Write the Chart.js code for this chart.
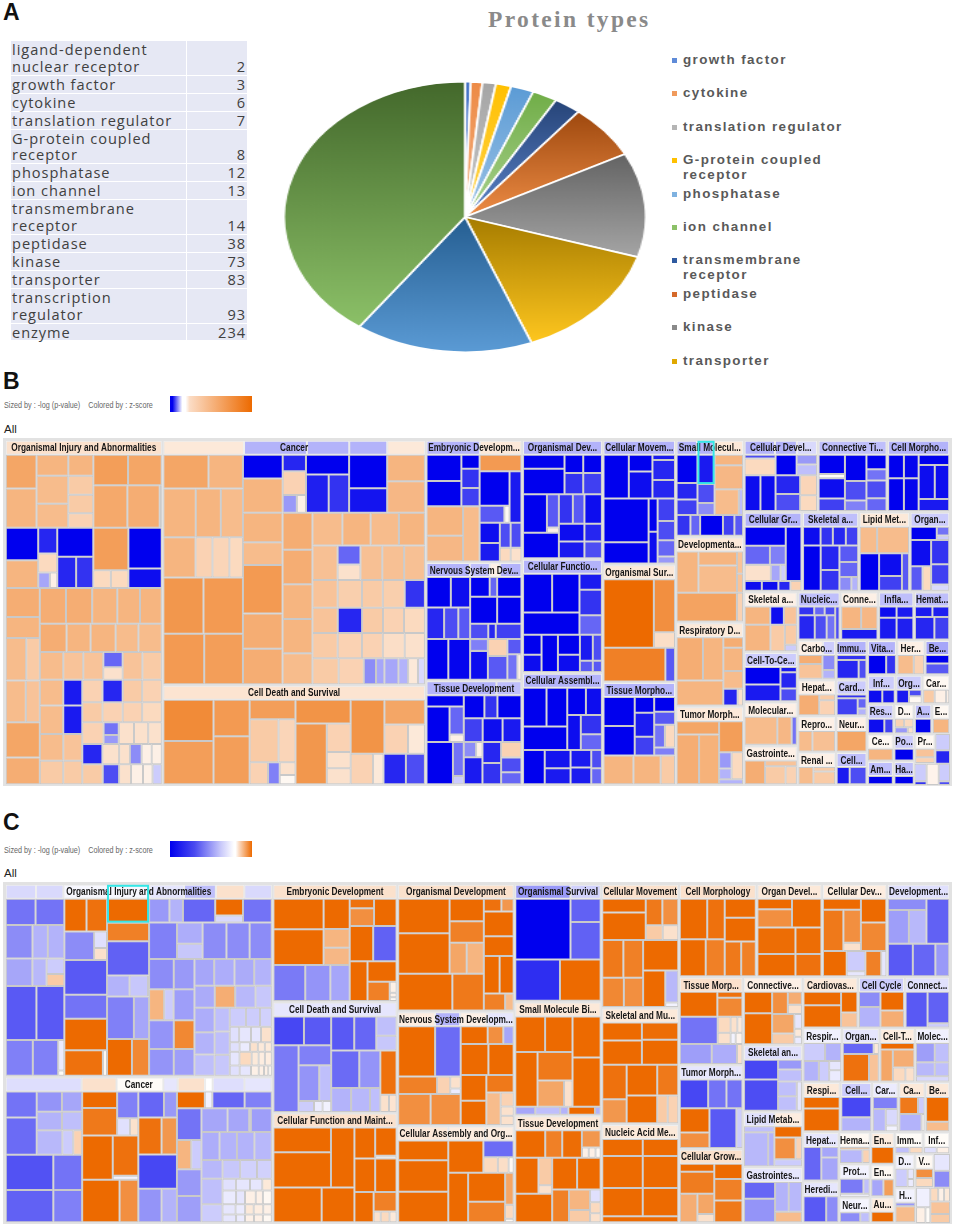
<!DOCTYPE html>
<html>
<head>
<meta charset="utf-8">
<script src="https://cdn.jsdelivr.net/npm/chart.js@4"></script>
<style>
  html, body { margin: 0; background: #fff; }
  #page { position: relative; width: 955px; height: 1229px; overflow: hidden; font-family: "Liberation Sans", Arial, sans-serif; }
  #page > * { position: absolute; }
  .letter { font-weight: bold; font-size: 23px; line-height: 23px; color: #111; left: 3px; }
  .sized { left: 4px; font: 8.6px "Liberation Sans", sans-serif; color: #666; white-space: pre; transform-origin: 0 0; transform: scaleX(.84); }
  .all { left: 4px; font-size: 11.5px; color: #222; }
  .scalebar { left: 170px; width: 82px; height: 16px; }
  #title { left: 488px; top: 6px; font: bold 23.5px "Liberation Serif", serif; color: #8a8a8a; letter-spacing: 2.35px; white-space: pre; }
  #proteinTable { left: 11px; top: 41px; border-collapse: separate; border-spacing: 0; font: 14.6px/16.9px "Open Sans", sans-serif; color: #404040; letter-spacing: .95px; }
  #proteinTable td { background: #e6e8f4; padding: 0 1px 0 1px; border-bottom: 1px solid #fff; vertical-align: bottom; }
  #proteinTable td:first-child { width: 173px; border-right: 1px solid #fff; }
  #proteinTable td:last-child { width: 58px; text-align: right; }
  #pieBox { left: 283px; top: 81px; width: 272px; height: 272px; transform-origin: 0 0; transform: scaleX(1.338); }
  #pieLegend { left: 672px; top: 53px; margin: 0; padding: 0; list-style: none; font: bold 13.4px/14.6px "Liberation Sans", sans-serif; color: #595959; letter-spacing: 1.4px; }
  #pieLegend li { position: relative; height: 33.4px; padding-left: 11px; width: 220px; }
  #pieLegend i { position: absolute; left: 0; top: 5px; width: 5px; height: 5px; }
  .frame { background: #e2e2e2; }
</style>
</head>
<body>
<div id="page">
  <div class="letter" style="top:1px">A</div>
  <table id="proteinTable"></table>
  <div id="title">Protein types</div>
  <div id="pieBox"><canvas id="pie" width="272" height="272"></canvas></div>
  <ul id="pieLegend"></ul>

  <div class="letter" style="top:370px">B</div>
  <div class="sized" style="top:400px">Sized by : -log (p-value)    Colored by : z-score</div>
  <div class="scalebar" style="top:396px;background:linear-gradient(90deg,#0000ee 0%,#0000ee 3%,#fff 15%,#fff 19%,#fbdcc5 24%,#ed6a00 100%)"></div>
  <div class="all" style="top:423px">All</div>
  <div class="frame" style="left:3px;top:438px;width:949px;height:348px"></div>
  <div style="left:5px;top:440px;width:945px;height:345px"><canvas id="treeB" width="945" height="345"></canvas></div>

  <div class="letter" style="top:811px">C</div>
  <div class="sized" style="top:845px">Sized by : -log (p-value)    Colored by : z-score</div>
  <div class="scalebar" style="top:841px;background:linear-gradient(90deg,#0000ee 0%,#4a4af0 30%,#c8c8fa 62%,#fff 78%,#fff 80%,#fbdcc5 84%,#ed6a00 100%)"></div>
  <div class="all" style="top:867px">All</div>
  <div class="frame" style="left:3px;top:882px;width:949px;height:342px"></div>
  <div style="left:5px;top:884px;width:945px;height:339px"><canvas id="treeC" width="945" height="339"></canvas></div>
</div>

<script>
// Protein types table + pie
const tableLabels = ['ligand-dependent nuclear receptor', 'growth factor', 'cytokine', 'translation regulator', 'G-protein coupled receptor', 'phosphatase', 'ion channel', 'transmembrane receptor', 'peptidase', 'kinase', 'transporter', 'transcription regulator', 'enzyme'];
const tableCounts = [2, 3, 6, 7, 8, 12, 13, 14, 38, 73, 83, 93, 234];
const pieLabels = tableLabels.slice(1);
const pieCounts = tableCounts.slice(1);
const legendCount = 10;
const pieTop = ['#4472c4', '#ed8a45', '#a5a5a5', '#ffc000', '#5b9bd5', '#70ad47', '#264478', '#9e480e', '#636363', '#a67c00', '#255e91', '#43682b'];
const pieBottom = ['#5f8bd8', '#f4b183', '#c8c8c8', '#ffd34d', '#9dc3e6', '#a9d18e', '#5b83c8', '#ed8c45', '#a5a5a5', '#ffc71f', '#5b9bd5', '#8cc168'];
const legendColors = ['#5f8bd8', '#f09a5c', '#b5b5b5', '#ffc000', '#7fb2e0', '#8cc168', '#2f5aa0', '#d5692a', '#8a8a8a', '#e0a800'];

// group names hold the ellipsis as printed. Sizes are -log(p) weights, second number is the z-score (+-1 = end of scale)
// ---------- panel B ----------
const bInjury = [
  [218, [[92, [[100, .6], [116, .5]]], [95, [[62, .5], [83, .45], [71, .45]]], [75, [[62, .5], [56, .35], [55, .35], [43, .3]]],
    [205, [[90, [[100, .65], [97, .6]]], [126, [[100, .58], [95, .55], [6, .1]]]]]]],
  [180, [[97, [[97, -1], [83, .5]]], [57, [[77, -.85], [57, .25], [46, [[35, -.35], [22, .1]]]]], [108, [[87, -1], [93, [[55, -.85], [50, -.8]]]]],
    [105, [[127, .65], [53, [[52, .25], [52, .25]]]]], [100, [[122, -1], [58, -.95]]]]],
  [587, [[102, [[87, .55], [63, .5], [127, [[60, .45], [40, .35]]], [125, [[60, .45], [42, .4]]], [105, .6], [80, .55]]],
    [365, [
      [107, [[78, .55], [78, .55], [75, .5], [68, .5], [65, .5]]],
      [85, [[80, .55], [72, .5], [75, .5], [68, .45], [70, .45]]],
      [83, [[70, .45], [60, .4], [60, .4], [58, [[45, -.6], [38, .2]]], [59, .4], [58, .35]]],
      [312, [
        [127, [[77, [[70, .45], [57, -.9]]], [85, [[70, .45], [57, -.9]]], [80, [[70, .45], [57, .4]]], [70, [[70, .35], [57, .35]]]]],
        [238, [
          [67, [[60, .3], [60, -.85], [58, .35], [58, .3]]],
          [60, [[60, .35], [60, .3], [58, .3], [58, .25]]],
          [65, [[63, .3], [45, [[35, -.55], [25, -.4]]], [45, .2], [42, .2], [40, .2]]],
          [60, [[60, -.85], [50, .2], [32, .2], [35, -.45], [30, .1], [30, .1]]],
          [60, [[60, .35], [48, -.7], [35, .2], [35, .1], [28, .1], [27, -.2]]]
        ]]
      ]]
    ]]
  ]]
];
const bCancer = [
  [682, [[238, [[100, [[135, .6], [103, .5]]], [145, [[97, .5], [75, .5], [66, .45]]], [120, [[95, .5], [50, .3], [50, .28], [40, .25]]], [167, [[120, .7], [118, .68]]], [150, [[122, .68], [116, .65]]]]],
    [544, [
      [172, [[118, [[70, -1], [100, .5]]], [69, [[48, -.85], [70, .3], [52, [[42, -.4], [27, .1]]]]], [128, [[58, -1], [112, [[67, -.88], [60, -.8]]]]], [113, [[98, -1], [72, -.92]]], [112, [[78, .5], [92, .48]]]]],
      [510, [[118, [[88, .5], [68, .45], [144, .68], [105, .55], [105, .55]]], [89, [[110, .55], [103, .55], [103, .5], [102, .5], [92, .45]]],
        [335, [[98, [[90, .45], [85, .5], [85, .45], [78, .5]]], [102, [[75, .42], [68, [[55, -.6], [45, .2]]], [65, .42], [65, .42], [62, .42]]],
          [83, [[75, .4], [72, .32], [62, .35], [65, .32], [60, -.8]]], [75, [[75, .4], [72, -.85], [62, .35], [62, .3], [62, .25]]],
          [75, [[75, .35], [72, .3], [62, .3], [65, .22], [60, .2]]], [77, [[75, .35], [72, .3], [35, -.45], [24, -.35], [40, -.35], [28, -.3], [28, .15], [20, -.15]]]]]]]
    ]]]]
];
const bCellDeath = [
  [250, [[150, [[122, .78], [128, .65]]], [108, [[108, .68], [142, .65]]], [137, [[58, .65], [127, [[85, .35], [50, .28]]], [65, [[55, .3], [35, -.5], [47, [[28, .2], [20, .05]]]]]]],
    [165, [[70, .72], [180, [[92, .7], [70, [[85, .3], [48, .2], [47, .2]]]]]]],
    [222, [[160, [[100, .72], [120, [[73, .6], [87, [[70, .3], [50, .15]]]]]]], [90, [[65, .3], [30, .15], [65, -.85], [55, -.7]]]]]]]
];
const bEmbryonic = byCols([
  [160, [[152, [[105, [[78, -1], [75, -1]]], [55, [[40, -1], [55, -.8], [52, -.75]]]]], [163, [[110, [[85, .5], [75, .48]]], [50, .45]]]]],
  [126, [[48, .68], [150, [[88, [[102, -1], [50, [[72, -.65], [15, .05]]]]], [35, -.9]]], [113, [[60, [[58, -.95], [53, -.9]]], [32, [[73, -.7], [40, .25]]], [32, [[73, -.7], [40, .2]]]]]]]
]);
const bNervous = [
  [183, [[130, [[90, [[72, -1], [57, -.95]]], [93, [[52, -.85], [42, -.7], [35, -.65]]]]], [153, [[58, [[58, -1], [22, -.6], [72, -1]]], [80, [[80, -1], [72, -1]]], [45, [[53, -.7], [22, -.85], [75, -.75]]]]]]],
  [120, [[65, -1], [65, -.98], [53, [[35, -.5], [85, -.95]]], [58, [[50, .3], [70, -.65]]], [42, [[45, -.65], [75, [[30, -.55], [12, .1]]]]]]]
];
const bTissueDev = byCols([
  [110, [[33, -1], [105, [[68, -1], [42, [[85, -.6], [23, .1]]]]], [125, [[78, -1], [32, [[105, -.55], [25, -.2]]]]]]],
  [170, [[68, [[60, -1], [38, -.8], [70, -1]]], [70, [[55, -.75], [58, -.95], [55, -.9]]], [125, [[55, [[45, [[35, -.45], [18, .1]]], [80, -.9]]], [55, [[60, -.85], [60, -.8]]], [60, [[43, .3], [40, -.7], [33, -.6]]]]]]]
]);
const bOrgDev = [
  [115, [[122, [[40, -1], [72, -1]]], [55, [[52, -1], [60, -.8]]], [55, [[52, -1], [60, -.75]]]]],
  [187, [[105, [[110, [[70, -1], [35, [[95, -.65], [15, .1]]]]], [73, -1]]], [126, [[84, [[40, -.8], [33, -.65], [50, -.95]]], [50, [[73, -.95], [50, -.85]]], [47, [[73, -.9], [50, -.7]]]]]]]
];
const bCellFunc = [
  [179, [[166, [[112, [[85, -1], [80, -1]]], [64, -1]]], [66, [[47, -.9], [75, -.8], [57, -.6]]]]],
  [110, [[53, [[58, -1], [50, -.95]]], [47, -1], [63, [[58, -1], [50, -.95]]], [37, [[75, -.9], [32, -.65]]], [26, [[75, -.7], [32, -.65]]]]]
];
const bCellAssembly = [
  [183, [[130, [[113, [[68, -1], [60, -1]]], [68, -1]]], [102, [[80, [[55, -1], [47, -.95]]], [103, [[40, -.95], [62, [[55, -.8], [45, -.6]]]]]]]]],
  [100, [[63, -1], [75, [[52, -.92], [45, -.9]]], [60, [[50, -.9], [48, -.9]]], [31, [[52, -.7], [45, -.6]]]]]
];
const bCellMove = [
  [128, [[73, -1], [68, [[48, -1], [78, -.95]]], [65, [[15, -.9], [57, -.85], [53, -.85]]]]],
  [190, [[130, [[126, -1], [62, -1]]], [26, [[96, -1], [92, -.95]]], [50, [[63, -.75], [54, -.7], [45, -.6], [20, -.4]]]]]
];
const bOrgSurvival = [
  [203, [[148, 1], [62, [[155, .75], [45, .22]]]]],
  [100, [[180, .85], [28, -.65]]]
];
const bTissueMorph = [
  [172, [[90, [[84, -1], [86, -1]]], [56, [[44, -1], [68, -.9], [53, -.75]]], [60, [[42, -1], [38, -.65], [65, [[30, -.55], [28, .25]]], [23, -.5]]]]],
  [85, [[88, .5], [80, .5], [42, .35]]]
];
const bSmallMol = [
  [175, [[61, [[82, -1], [48, -.85], [45, -.75]]], [50, [[85, -.9, true], [55, -.7], [35, -.45]]], [83, [[30, .5], [70, .48], [75, [[70, .45], [12, -.25]]]]]]],
  [60, [[40, -.8], [28, -.6], [66, -1], [33, -.75], [25, -.65]]]
];
const bDevelop = [
  [120, [[65, .5], [115, [[40, .5], [78, .45]]], [18, [[65, .4], [55, .4]]]]],
  [83, [[178, .62], [18, .3]]]
];
const bRespiratory = [
  [200, [[137, [[125, [[78, .55], [60, .5]]], [72, .5]]], [58, [[30, .55], [66, .5], [50, .45], [48, [[40, -.85], [15, .2]]]]]]]
];
const bTumor = [
  [190, [[124, [[40, .6], [150, [[65, .55], [58, .52]]]]], [70, [[93, .65], [80, [[35, [[45, -.4], [30, -.3]]], [32, .25]]], [15, -.3]]]]]
];
const bCellDev = [
  [62, [[88, [[12, -.7], [53, .25]]], [60, -1], [58, [[27, -.4], [30, -.25]]]]],
  [108, [[45, -.95], [43, -.95], [70, [[55, -.85], [50, -.7]]], [48, [[60, .28], [48, .25]]]]]
];
const bConnTissue = [
  [170, [[76, [[57, -1], [13, .02], [60, -.95], [38, -.75]]], [62, [[78, -1], [58, -.7], [32, -.5]]], [58, [[42, -1], [33, -.55], [52, -.7], [38, -.6]]]]]
];
const bCellMorph = [
  [170, [[90, [[70, [[45, -1], [42, -.98]]], [98, [[45, -1], [42, -.98]]]]], [90, [[30, -1], [100, [[47, -.95], [42, -.95]]], [36, -.9]]]]]
];
const bCellGrowth = [
  [153, [[118, [[53, -1], [53, [[72, -.6], [45, -.5]]], [45, [[75, .2], [28, -.35], [15, -.2]]]]], [45, -1]]],
  [28, [[50, -.95], [48, -.95], [35, -.85], [32, .3]]]
];
const bSkeletal1 = [
  [53, [[50, -.95], [35, -.8], [37, -.85], [35, -.75]]],
  [127, [[50, -1], [53, [[67, -.85], [57, -.8]]], [53, [[44, -.65], [40, -.6], [37, [[35, -.45], [20, -.3]]]]]]]
];
const bLipid = [[76, [[50, .45], [92, .45]]], [108, [[55, -1], [65, [[62, -.95], [40, -.75]]], [20, -.65]]]];
const bOrgan = [[38, [[78, -1], [37, [[25, -.55], [13, -.2]]]]], [146, [[60, [[73, -.95], [68, [[35, -.65], [25, .25]]]]], [53, [[68, -.8], [57, -.75], [18, -.15]]]]]];
const bSkeletal2 = [[52, [[75, .5], [40, -.95], [38, .4]]], [75, [[75, .5], [42, .35], [35, [[53, .35], [17, -.2]]]]]];
const bCellToCell = [[95, [[105, [[47, -1], [45, -.9]]], [48, [[15, -.9], [45, -.85], [35, -.7]]]]]];
const bMolecular = [[80, [[95, .45], [42, .48], [15, -.55]]]];
const bGastro = [[70, [[58, .55], [90, [[17, .4], [53, [[58, .35], [32, .3]]]]]]]];
const bNucleic = [[97, [[108, [[25, [[45, -.8], [30, -.6], [30, -.7]]], [70, [[48, -.85], [35, -.7], [25, -.55]]]]], [13, -.7]]]];
const bConn2 = [[65, [[57, .5], [47, .48]]], [30, -.9]];
const bInflam = [[32, [[50, -.95], [48, -.9]]], [62, [[50, -.9], [48, -.88]]]];
const bHemat = [[30, [[50, -.9], [48, -.88]]], [65, [[55, -.85], [42, -.75]]]];
const bCarbo = [[68, [[72, [[25, .55], [42, .4]]], [38, [[42, -.45], [25, -.3]]]]]];
const bImmu = [[13, -.8], [50, [[62, -.85], [22, -.7]]]];
const bHepat = [[53, [[60, .55], [46, [[15, .35], [38, .3]]]]]];
const bCard = [[10, -.8], [45, [[60, -.75], [25, [[30, -.6], [20, -.3]]]]]];
const bRepro = [[58, [[40, .45], [65, .42]]]];
const bNeur = [[52, .6]];
const bRenal = [[50, [[45, .45], [65, [[12, .35], [35, .35]]]]]];
const bCellSmall = [[48, [[35, -.9], [45, -.7]]]];
const bVita = [[50, [[50, -1], [27, -.8]]]];
const bHer = [[50, [[45, .45], [28, .3]]]];
const bBe = [[20, -1], [26, -.65]];
const bInf = [[35, [[40, -.95], [35, -.9]]]];
const bOrg = [[35, [[35, -.9], [35, [[17, -.7], [18, .05]]]]]];
const bCar = [[33, [[30, .35], [30, .1], [8, .1]]]];
const bRes = [[42, [[45, -.95], [25, -.75]]]];
const bD = [[25, [[25, .3], [25, .25]]], [18, [[35, -.4], [15, .2]]]];
const bA = [[45, -1]];
const bE = [[45, .5]];
const bCe = [[30, .5]];
const bAm = [[25, -1]];
const bPo = [[25, -1]];
const bHa = [[22, -1]];
const bPr = [[18, .4], [12, .3]];

const bTree = [
  [470, [g('Organismal Injury and Abnormalities', 1, .2, bInjury)]],
  [785, [g('Cancer', 727, [[240, .15], [187, -.3], [126, -.3], [113, -.3], [112, .15]], bCancer), g('Cell Death and Survival', 297, .18, bCellDeath)]],
  [288, [g('Embryonic Developm...', 357, [[160, -.3], [125, .15]], bEmbryonic), g('Nervous System Dev...', 345, [[130, -.3], [60, -.25], [30, .1], [65, -.3]], bNervous), g('Tissue Development', 305, [[210, -.3], [75, -.25]], bTissueDev)]],
  [240, [g('Organismal Dev...', 350, -.3, bOrgDev), g('Cellular Functio...', 335, -.3, bCellFunc), g('Cellular Assembl...', 330, -.3, bCellAssembly)]],
  [218, [g('Cellular Movem...', 367, -.3, bCellMove), g('Organismal Sur...', 348, .15, bOrgSurvival), g('Tissue Morpho...', 303, -.3, bTissueMorph)]],
  [203, [g('Small Molecul...', 285, [[62, -.3], [50, -.3], [90, .15]], bSmallMol), g('Developmenta...', 253, .15, bDevelop), g('Respiratory D...', 248, .15, bRespiratory), g('Tumor Morph...', 232, .15, bTumor)]],
  [615, [
    [212, [g('Cellular Devel...', 216, [[90, -.3], [65, -.3], [60, -.15]], bCellDev), g('Connective Ti...', 203, -.25, bConnTissue), g('Cell Morpho...', 183, -.3, bCellMorph)]],
    [235, [g('Cellular Gr...', 170, -.3, bCellGrowth), g('Skeletal a...', 165, -.25, bSkeletal1), g('Lipid Met...', 148, .15, bLipid), g('Organ...', 117, -.2, bOrgan)]],
    [570, [
      [160, [g('Skeletal a...', 172, .1, bSkeletal2), g('Cell-To-Ce...', 142, -.2, bCellToCell), g('Molecular...', 124, .1, bMolecular), g('Gastrointe...', 112, .1, bGastro)]],
      [453, [
        [143, [g('Nucleic...', 124, -.25, bNucleic), g('Conne...', 110, .1, bConn2), g('Infla...', 104, -.25, bInflam), g('Hemat...', 104, -.25, bHemat)]],
        [425, [
          [207, [
            [114, [g('Carbo...', 112, [[70, .1], [35, -.2]], bCarbo), g('Immu...', 92, -.3, bImmu)]],
            [106, [g('Hepat...', 112, .1, bHepat), g('Card...', 92, -.2, bCard)]],
            [105, [g('Repro...', 112, .1, bRepro), g('Neur...', 92, .1, bNeur)]],
            [95, [g('Renal ...', 112, .1, bRenal), g('Cell...', 92, -.25, bCellSmall)]]
          ]],
          [246, [
            [102, [g('Vita...', 84, -.3, bVita), g('Her...', 80, .1, bHer), g('Be...', 72, -.35, bBe)]],
            [85, [g('Inf...', 82, -.2, bInf), g('Org...', 78, -.2, bOrg), g('Car...', 80, .05, bCar)]],
            [88, [g('Res...', 78, -.2, bRes), g('D...', 58, .05, bD), g('A...', 52, -.25, bA), g('E...', 52, .05, bE)]],
            [150, [
              [78, [g('Ce...', 75, .05, bCe), g('Am...', 65, -.25, bAm)]],
              [62, [g('Po...', 75, -.2, bPo), g('Ha...', 65, -.25, bHa)]],
              [105, [[77, [g('Pr...', 1, .05, bPr), [.7, [[42, -.2], [35, -.85]]]]], [55, [[32, [[45, -.2], [10, -.8]]], [32, .08], [30, [[45, -.2], [10, -.7]]]]]]]
            ]]
          ]]
        ]]
      ]]
    ]]
  ]]
];

// ---------- panel C ----------
const cInjury = byCols([
  [174, [[78, [[88, -.55], [85, -.55]]], [100, [[78, -.45], [45, -.3], [48, -.3]]], [82, [[78, -.35], [42, -.28], [52, [[45, -.2], [35, .35]]]]], [161, [[90, -.65], [82, -.65]]], [107, [[80, -.5], [75, -.5], [18, [[85, -.08], [15, .03]]]]]]],
  [127, [[96, [[65, 1], [60, .95]]], [84, [[88, -.45], [38, [[48, -.12], [35, .2]]]]], [102, -.65], [71, -.55], [93, 1], [75, [[112, .95], [12, .05]]]]],
  [125, [[70, 1, true], [55, .85], [100, -.62], [62, [[67, -.3], [55, -.22], [3, .02]]], [125, [[80, -.5], [45, -.35]]], [108, [[73, 1], [50, .8]]]]],
  [365, [
    [70, [[60, -.4], [40, -.3], [95, -.6], [82, [[48, 1], [20, -.15]]], [85, -.55]]],
    [108, [[82, -.5], [75, [[62, -.32], [45, -.22]]], [70, -.45], [68, -.45], [65, -.45]]],
    [345, [
      [135, [[90, [[72, -.45], [60, -.4]]], [92, [[45, .5], [28, -.2], [62, -.38]]], [85, [[72, -.42], [60, .8]]], [80, [[72, -.42], [60, -.38]]]]],
      [230, [
        [79, [[58, -.35], [60, -.32], [58, -.33], [52, -.3]]],
        [66, [[60, -.33], [60, .55], [60, -.28], [48, -.22]]],
        [202, [
          [60, [[68, -.32], [62, -.3], [60, -.25]]],
          [45, [[70, -.25], [69, -.25], [63, -.22]]],
          [125, [
            [55, [[48, -.2], [42, -.2], [35, -.18]]],
            [45, [[28, -.12], [35, -.1], [30, -.1], [32, .2]]],
            [28, [[28, -.12], [30, -.08], [22, .2], [20, .15], [20, .15]]],
            [40, [[28, -.1], [35, .25], [20, .15], [18, .12], [20, .12]]],
            [30, [[28, -.12], [32, -.1], [22, .1], [15, .1], [12, .1], [10, .05]]]
          ]]
        ]]
      ]]
    ]]
  ]]
]);
const cCancer = byCols([
  [227, [[188, [[92, [[77, -.55], [110, -.58]]], [135, [[60, [[75, -.42], [60, -.35]]], [55, [[75, -.3], [60, -.25]]], [72, [[75, -.28], [32, -.2], [26, .3]]]]]]], [201, [[140, [[105, -.68], [95, -.62]]], [85, [[105, -.55], [95, -.5]]]]]]],
  [167, [[130, [[104, [[48, 1], [80, .9]]], [63, [[78, -.5], [50, [[35, -.12], [23, .2]]]]]]], [130, [[90, 1], [75, [[118, .95], [12, -.05]]]]], [125, [[110, 1], [55, .75]]]]],
  [115, [[76, [[75, -.6], [38, -.4]]], [108, [[68, .95], [45, .7]]], [100, -.72], [98, [[68, -.42], [45, -.3]]]]],
  [282, [
    [50, [[82, 1], [22, -.05], [95, -.6], [80, -.5]]],
    [338, [
      [72, [[92, -.55], [85, [[42, .5], [30, -.2]]], [78, -.4], [76, -.38]]],
      [207, [
        [70, [[75, -.35], [62, -.35], [5, -.02], [60, -.38]]],
        [82, [[52, -.32], [50, -.3], [50, -.3], [50, -.28]]],
        [55, [[60, -.28], [50, -.22], [48, -.18], [42, -.18]]],
        [128, [
          [62, [[75, -.25], [53, -.2]]],
          [145, [
            [35, [[38, -.12], [40, -.1], [35, -.1], [27, .15]]],
            [40, [[38, -.08], [25, -.1], [30, .1], [20, .1], [25, .05]]],
            [30, [[38, -.1], [28, -.08], [25, .15], [28, .12], [25, .1]]],
            [23, [[38, -.1], [25, -.08], [25, .1], [25, .1], [25, .05]]]
          ]]
        ]]
      ]]
    ]]
  ]]
]);
const cEmbryonic = byCols([
  [228, [[193, [[150, [[90, 1], [105, 1]]], [78, [[88, 1], [55, .5], [50, .48]]]]], [105, [[95, -.52], [75, -.42], [58, -.35]]]]],
  [140, [[78, [[70, [[27, .95], [50, .75]]], [65, 1]]], [102, [[68, 1], [68, -.62]]], [114, [[52, 1], [85, [[57, 1], [54, [[65, .85], [20, [[30, .1], [12, .1], [10, .05]]]]]]]]]]]
]);
const cCellDeath = byCols([
  [172, [[85, [[90, -.72], [80, -.65]]], [197, [[75, -.52], [97, [[59, -.5], [106, [[60, -.42], [35, -.25]]], [32, [[45, -.2], [25, -.08], [25, -.05]]]]]]]]],
  [195, [[100, [[68, -.65], [65, -.6], [60, [[52, -.25], [40, -.22]]]]], [182, [[145, [[110, [[80, -.58], [60, -.42]]], [70, [[58, -.3], [55, -.28], [30, -.25]]]]], [48, [[130, .95], [50, [[25, .2], [22, .18]]]]]]]]]
]);
const cCellFunc = byCols([
  [242, [[178, [[172, [[72, 1], [103, 1]]], [70, 1]]], [103, [[143, 1], [97, 1]]]]],
  [126, [[90, [[60, 1], [62, [[80, 1], [8, .02]]]]], [97, [[60, 1], [62, 1]]], [88, [[57, 1], [68, [[55, .85], [30, [[20, .2], [25, .25], [20, .15]]]]]]]]]
]);
const cOrgDev = byCols([
  [253, [[220, [[150, [[100, 1], [118, 1]]], [100, [[65, 1], [63, .85], [90, [[50, .6], [50, .5]]]]]]], [108, [[158, 1], [92, .9]]]]],
  [88, [[36, [[50, .95], [35, .7]]], [70, 1], [56, 1], [106, [[45, 1], [40, 1]]], [48, [[62, .85], [25, .45]]]]]
]);
const cNervous = byCols([
  [183, [[147, [[108, 1], [75, -.58]]], [51, [[112, .85], [38, .3], [30, [[30, .2], [14, -.08]]]]], [90, [[95, .75], [88, .75]]]]],
  [155, [[52, [[78, 1], [45, .75], [30, -.35]]], [91, [[80, 1], [73, 1]]], [146, [[75, [[72, 1], [68, 1]]], [80, [[50, .9], [92, [[42, .45], [38, [[30, .3], [20, .2], [20, .2]]]]]]]]]]]
]);
const cCellAssembly = byCols([
  [147, [[57, 1], [92, 1], [88, 1]]],
  [192, [[95, [[102, 1], [88, [[48, -.58], [45, [[40, .25], [30, .22], [14, .05]]]]]]], [146, [[58, 1], [108, [[85, 1], [60, .85]]], [25, [[95, .6], [42, .25], [10, .05]]]]]]]
]);
const cOrgSurvival = [[181, [[165, -1], [90, [[68, -.62], [110, -.62]]]]], [123, [[132, -.82], [120, 1]]]];
const cSmallMol = [
  [262, [[167, [[102, [[87, 1], [80, 1]]], [157, [[65, 1], [102, [[82, .9], [75, [[78, .6], [25, .2]]]]]]]]], [82, [[118, 1], [142, 1]]]]],
  [23, [[60, -.35], [75, -.25], [25, -.3], [80, 1], [17, -.3]]]
];
const cTissueDev = [
  [81, [[88, 1], [50, .85], [58, .98], [55, [[51, .7], [30, [[20, .1], [20, .1], [15, .05]]]]]]],
  [191, [[108, [[106, [[68, 1], [40, [[80, .35], [25, .2]]]]], [83, 1]]], [142, [[93, [[72, 1], [68, 1]]], [95, [[48, .85], [60, [[58, .5], [35, .35]]], [30, [[35, -.12], [30, .25], [25, .2]]]]]]]]]
];
const cCellMove = [
  [121, [[130, [[40, 1], [80, 1]]], [97, [[75, [[50, .9], [48, .75]]], [42, [[35, .35], [32, .2]]]]]]],
  [197, [[122, [[110, [[62, .9], [58, .85]]], [85, [[62, .8], [55, .75]]]]], [105, [[88, 1], [105, [[65, 1], [38, [[90, -.28], [13, -.05]]]]]]]]]
];
const cSkeletal = [
  [123, [[118, [[52, 1], [70, 1]]], [108, [[50, .98], [72, 1]]]]],
  [171, [[72, [[100, .95], [70, .7]]], [90, [[88, 1], [80, 1]]], [62, [[88, .9], [80, [[38, .35], [38, .3]]]]]]]
];
const cNucleic = [[230, [[120, [[50, 1], [93, 1], [82, 1]]], [105, [[50, 1], [93, 1], [82, 1]]]]], [18, 1]];
const cCellMorph = [[236, [[133, [[121, [[78, 1], [50, .95]]], [111, [[75, 1], [55, .85]]]]], [92, [[56, 1], [70, 1], [103, [[47, .9], [42, .85]]]]]]]];
const cOrganDev = [[85, [[100, [[30, 1], [52, .75]]], [85, 1]]], [78, [[110, .98], [75, .98]]], [66, [[110, 1], [75, .95]]]];
const cCellDev = [
  [158, [[112, [[33, 1], [125, [[58, .9], [50, [[100, .75], [25, .2]]]]]]], [75, [[70, 1], [85, .8]]]]],
  [76, [[70, 1], [55, [[60, -.2], [15, -.1]]], [47, .85], [15, -.1]]]
];
const cDevelopment = [[136, [[115, [[33, -.45], [100, [[60, -.38], [50, -.28]]]]], [68, -.62]]], [98, [[72, -.65], [65, -.6], [40, -.4]]]];
const cTissueMorph = [
  [70, [[112, 1], [75, [[17, .95], [55, .8]]]]],
  [76, [[115, -.55], [75, [[42, [[38, .25], [20, .2], [15, .15]]], [30, [[38, .2], [15, -.05], [20, .08]]]]]]],
  [56, [[95, -.38], [75, -.32], [16, .2]]]
];
const cTumor = [[84, [[85, -.72], [55, -.55], [48, -.55]]], [116, [[88, [[70, 1], [45, .75]]], [80, -.65], [18, -.2]]]];
const cCellGrowth = byCols([[100, [[23, 1], [62, .88], [81, [[50, .55], [48, [[55, .6], [22, .2]]]]]]], [82, [[43, 1], [60, .85], [61, .9]]]]);
const cConnective = byCols([[82, [[60, 1], [86, 1]]], [87, [[62, [[45, .75], [40, [[35, .55], [25, .2]]]]], [84, [[65, [[55, .6], [30, .35]]], [22, [[40, -.1], [22, .15], [20, -.08]]]]]]]]);
const cSkeletalAn = byCols([[100, [[55, -.72], [87, -.7]]], [70, [[28, -.4], [34, -.25], [83, [[55, [[42, -.25], [42, -.25]]], [15, -.1]]]]]]);
const cLipid = byCols([[88, [[17, -.25], [100, [[70, -.28], [18, -.3]]]]], [80, [[32, 1], [63, [[60, .75], [18, .3]]], [20, -.2]]]]);
const cGastro = byCols([[90, [[47, -.6], [65, -.42]]], [78, [[80, [[40, -.3], [38, -.28]]], [28, .45]]]]);
const cCardio = byCols([[108, [[37, 1], [62, 1]]], [47, [[58, 1], [42, .4]]]]);
const cCellCycle = byCols([[62, [[42, -.45], [57, -.3]]], [68, [[52, 1], [47, .55]]]]);
const cConnect = byCols([[62, -.65], [61, [[88, -.62], [12, -.2]]]]);
const cRespir = [[50, [[60, -.2], [45, -.3]]], [57, [[45, -.3], [30, -.2], [35, [[25, -.1], [30, -.08]]]]]];
const cOrgan = [[30, [[90, -.6], [15, .15]]], [75, [[75, .95], [28, .4]]]];
const cCellT = [[18, 1], [88, [[35, .6], [60, [[48, .55], [37, [[35, .25], [25, .2]]]]]]]];
const cMolec = [[55, [[55, -.38], [42, -.25]]], [40, [[55, -.28], [42, -.25]]], [15, -.15]];
const cRespi2 = [[31, 1], [62, 1]];
const cCell2 = [[53, -.72], [37, -.3]];
const cCar = [[31, -.5], [58, [[38, -.28], [35, [[42, -.15], [15, -.05]]]]]];
const cCa = [[45, [[52, .9], [18, -.2]]], [46, [[62, -.3], [8, .03]]]];
const cBe = [[65, 1], [25, .45]];
const cHepat = [[85, [[50, -.6], [48, [[25, -.35], [55, -.35]]]]]];
const cHeredi = [[80, [[65, -.65], [35, -.45]]]];
const cHema = [[8, .5], [42, [[68, -.28], [22, .3]]]];
const cProt = [[38, [[68, -.52], [18, -.25]]], [7, -.05]];
const cNeur = [[33, [[60, -.45], [28, -.25]]]];
const cEn1 = [[45, 1]];
const cEn2 = [[45, [[35, -.35], [30, .65]]]];
const cAu = [[32, 1]];
const cImm = [[16, [[38, -.25], [35, .25]]]];
const cInf = [[16, [[35, -.12], [35, .1]]]];
const cD = [[45, [[35, -.2], [18, [[25, -.1], [20, -.08]]]]]];
const cV = [[23, .75], [22, .25]];
const cH = [[10, -.4], [43, .45]];

const cTree = [
  [800, [g('Organismal Injury and Abnormalities', 570, [[90, -.15], [82, -.15], [132, -.03], [126, -.03], [102, -.1], [95, -.25], [85, .2], [82, -.15]], cInjury),
         g('Cancer', 433, [[227, -.13], [105, .2], [140, .03], [43, -.1], [82, .2], [23, 0], [95, -.13], [82, -.1]], cCancer)]],
  [373, [g('Embryonic Development', 345, .2, cEmbryonic), g('Cell Death and Survival', 325, -.1, cCellDeath), g('Cellular Function and Maint...', 323, .2, cCellFunc)]],
  [350, [g('Organismal Development', 373, .2, cOrgDev), g('Nervous System Developm...', 335, [[110, .12], [75, -.3], [80, .1], [80, -.1]], cNervous), g('Cellular Assembly and Org...', 285, [[150, .15], [110, .12], [85, .12]], cCellAssembly)]],
  [260, [g('Organismal Survival', 348, [[165, -.4], [90, -.18]], cOrgSurvival), g('Small Molecule Bi...', 337, .15, cSmallMol), g('Tissue Development', 318, .15, cTissueDev)]],
  [232, [g('Cellular Movement', 363, .2, cCellMove), g('Skeletal and Mu...', 341, .15, cSkeletal), g('Nucleic Acid Me...', 290, .15, cNucleic)]],
  [810, [
    [278, [g('Cell Morphology', 227, .2, cCellMorph), g('Organ Devel...', 192, .15, cOrganDev), g('Cellular Dev...', 190, .12, cCellDev), g('Development...', 184, -.12, cDevelopment)]],
    [735, [
      [190, [g('Tissue Morp...', 252, .2, cTissueMorph), g('Tumor Morph...', 242, -.1, cTumor), g('Cellular Grow...', 213, .2, cCellGrowth)]],
      [176, [g('Connective...', 192, .1, cConnective), g('Skeletal an...', 188, -.12, cSkeletalAn), g('Lipid Metab...', 157, [[90, -.12], [80, .12]], cLipid), g('Gastrointes...', 158, -.1, cGastro)]],
      [436, [
        [150, [g('Cardiovas...', 162, .15, cCardio), g('Cell Cycle', 136, -.2, cCellCycle), g('Connect...', 132, -.12, cConnect)]],
        [158, [g('Respir...', 115, -.06, cRespir), g('Organ...', 110, -.1, cOrgan), g('Cell-T...', 104, .12, cCellT), g('Molec...', 102, -.06, cMolec)]],
        [146, [g('Respi...', 110, .15, cRespi2), g('Cell...', 92, -.2, cCell2), g('Car...', 77, -.08, cCar), g('Ca...', 78, .15, cCa), g('Be...', 72, .15, cBe)]],
        [266, [
          [108, [g('Hepat...', 142, -.1, cHepat), g('Heredi...', 120, -.1, cHeredi)]],
          [328, [[1, [
            [92, [g('Hema...', 92, .05, cHema), g('Prot...', 97, -.05, cProt), g('Neur...', 74, -.04, cNeur)]],
            [71, [g('En...', 92, .12, cEn1), g('En...', 92, .05, cEn2), g('Au...', 74, .12, cAu)]],
            [163, [
              [62, [g('Imm...', 82, .03, cImm), g('Inf...', 76, .03, cInf)]],
              [96, [g('D...', 57, -.05, cD), g('V...', 54, .05, cV), [46, [[45, -.1], [45, -.45]]]]],
              [100, [g('H...', 60, -.05, cH), [40, [[55, -.06], [45, [[25, .1], [13, .03]]]]], [55, [[38, [[20, .25], [15, .1], [15, .15]]], [35, .4], [25, .35]]]]]
            ]]
          ]]]]
        ]]
      ]]
    ]]
  ]]
];

function g(name, size, head, rows) {
  return { name, size, head: Array.isArray(head) ? head : [[1, head]], rows };
}

// group whose body splits into columns first: one row holding them
function byCols(kids) {
  return [[1, kids]];
}

// white to end-of-scale colour, blue side or orange side
function zColor(z) {
  const end = z < 0 ? [0, 0, 238] : [237, 106, 0];
  const t = Math.min(1, Math.abs(z));
  return 'rgb(' + end.map(c => Math.round(255 + (c - 255) * t)).join(',') + ')';
}

// slice and dice down the tree, every level flips the slicing direction
function sliceTree(kids, x, y, w, h, vertical, out) {
  const sizeOf = n => Array.isArray(n) ? n[0] : n.size;
  const total = kids.reduce((s, k) => s + sizeOf(k), 0);
  let pos = vertical ? y : x;
  kids.forEach(k => {
    const share = sizeOf(k) / total * (vertical ? h : w);
    const rx = vertical ? x : pos, ry = vertical ? pos : y;
    const rw = vertical ? w : share, rh = vertical ? share : h;
    pos += share;
    if (!Array.isArray(k)) {
      const gx = rx + .8, gy = ry + .8, gw = rw - 1.6, gh = rh - 1.6;
      const headH = 14;
      const first = out.cells.length;
      sliceTree(k.head, gx, gy, gw, headH, false, out);
      out.cells.slice(first).forEach(c => { c.head = true; });
      out.labels.push({ name: k.name, x: gx + gw / 2, y: gy + headH / 2, w: gw });
      sliceTree(k.rows, gx, gy + headH, gw, gh - headH, true, out);
      // selected cell outline reaches up through the header
      out.cells.slice(first).filter(c => c.sel).forEach(c => out.marks.push({ x0: c.x0, x1: c.x1, y0: gy, y1: c.y1 }));
    } else if (Array.isArray(k[1])) {
      sliceTree(k[1], rx, ry, rw, rh, !vertical, out);
    } else {
      out.cells.push({ x: rx + rw / 2, y: ry + rh / 2, x0: rx, x1: rx + rw, y0: ry, y1: ry + rh, z: k[1], sel: !!k[2] });
    }
  });
  return out;
}

class TreemapController extends Chart.DatasetController {
  static id = 'treemap';
  static defaults = { dataElementType: 'bar', datasetElementType: false };
  update(mode) {
    const meta = this._cachedMeta;
    this.updateElements(meta.data, 0, meta.data.length, mode);
  }
  updateElements(rects, start, count, mode) {
    const { xScale, yScale } = this._cachedMeta;
    const cells = this.getDataset().data;
    for (let i = start; i < start + count; i++) {
      const c = cells[i];
      const left = xScale.getPixelForValue(c.x0), right = xScale.getPixelForValue(c.x1);
      this.updateElement(rects[i], i, {
        x: (left + right) / 2, width: right - left,
        y: yScale.getPixelForValue(c.y0), base: yScale.getPixelForValue(c.y1),
        height: yScale.getPixelForValue(c.y1) - yScale.getPixelForValue(c.y0),
        horizontal: false, inflateAmount: 0,
        borderSkipped: { top: false, right: false, bottom: false, left: false },
        options: this.resolveDataElementOptions(i, mode)
      }, mode);
    }
  }
  draw() {
    this._cachedMeta.data.forEach(r => r.draw(this.chart.ctx));
  }
}
Chart.register(TreemapController);

const treeLabels = {
  id: 'treeLabels',
  afterDatasetsDraw(chart, args, opts) {
    const { ctx, scales: { x, y } } = chart;
    ctx.save();
    ctx.font = 'bold 11.5px "Liberation Sans", sans-serif';
    ctx.fillStyle = '#151515';
    ctx.textAlign = 'center';
    ctx.textBaseline = 'middle';
    opts.layout.labels.forEach(l => {
      // the header type is condensed, squeeze it sideways
      ctx.save();
      ctx.translate(x.getPixelForValue(l.x), y.getPixelForValue(l.y) + .5);
      ctx.scale(.72, 1);
      ctx.fillText(l.name, 0, 0);
      ctx.restore();
    });
    ctx.strokeStyle = '#35e6e6';
    ctx.lineWidth = 2;
    opts.layout.marks.forEach(m => {
      const a = x.getPixelForValue(m.x0), b = y.getPixelForValue(m.y0);
      ctx.strokeRect(a + 1, b + 1, x.getPixelForValue(m.x1) - a - 2, y.getPixelForValue(m.y1) - b - 2);
    });
    ctx.restore();
  }
};

function drawTree(id, tree, w, h) {
  const layout = sliceTree(tree, 0, 0, w, h, false, { cells: [], labels: [], marks: [] });
  return new Chart(document.getElementById(id), {
    type: 'treemap',
    data: {
      datasets: [{
        data: layout.cells,
        backgroundColor: layout.cells.map(c => zColor(c.z)),
        borderColor: layout.cells.map(c => c.head ? 'rgba(255,255,255,.45)' : '#c9c9c9'),
        borderWidth: 1,
        parsing: false
      }]
    },
    options: {
      responsive: false,
      animation: false,
      events: [],
      layout: { padding: 0 },
      scales: {
        x: { type: 'linear', display: false, min: 0, max: w },
        y: { type: 'linear', display: false, min: 0, max: h, reverse: true }
      },
      plugins: { legend: { display: false }, tooltip: { enabled: false }, treeLabels: { layout } }
    },
    plugins: [treeLabels]
  });
}

drawTree('treeB', bTree, 945, 345);
drawTree('treeC', cTree, 945, 339);

// table
document.getElementById('proteinTable').innerHTML = tableLabels.map((t, i) =>
  '<tr><td>' + t + '</td><td>' + tableCounts[i] + '</td></tr>').join('');

// each slice has its own top to bottom gradient, over the height of that slice
function pieGradient(c) {
  const area = c.chart.chartArea;
  const i = c.dataIndex;
  if (!area) return pieBottom[i];
  const total = pieCounts.reduce((a, b) => a + b, 0);
  const before = pieCounts.slice(0, i).reduce((a, b) => a + b, 0);
  const a0 = before / total * 2 * Math.PI - Math.PI / 2;
  const a1 = (before + pieCounts[i]) / total * 2 * Math.PI - Math.PI / 2;
  const cy = (area.top + area.bottom) / 2, r = (area.bottom - area.top) / 2;
  const ys = [cy, cy + r * Math.sin(a0), cy + r * Math.sin(a1)];
  if (a0 < Math.PI / 2 && a1 > Math.PI / 2) ys.push(cy + r);
  if (a0 < -Math.PI / 2 + .001 || a1 > 3 * Math.PI / 2 - .001) ys.push(cy - r);
  const grad = c.chart.ctx.createLinearGradient(0, Math.min(...ys), 0, Math.max(...ys));
  grad.addColorStop(0, pieTop[i]);
  grad.addColorStop(1, pieBottom[i]);
  return grad;
}
new Chart(document.getElementById('pie'), {
  type: 'pie',
  data: {
    labels: pieLabels,
    datasets: [{ data: pieCounts, backgroundColor: pieGradient, borderColor: '#fff', borderWidth: 1.6 }]
  },
  options: {
    responsive: false,
    animation: false,
    layout: { padding: 0 },
    plugins: { legend: { display: false }, tooltip: { enabled: false } }
  }
});

// legend only lists the first ten, as in the figure
document.getElementById('pieLegend').innerHTML = pieLabels.slice(0, legendCount).map((t, i) =>
  '<li><i style="background:' + legendColors[i] + '"></i>' + t.replace('G-protein coupled ', 'G-protein coupled<br>').replace('transmembrane ', 'transmembrane<br>') + '</li>').join('');
</script>
</body>
</html>
